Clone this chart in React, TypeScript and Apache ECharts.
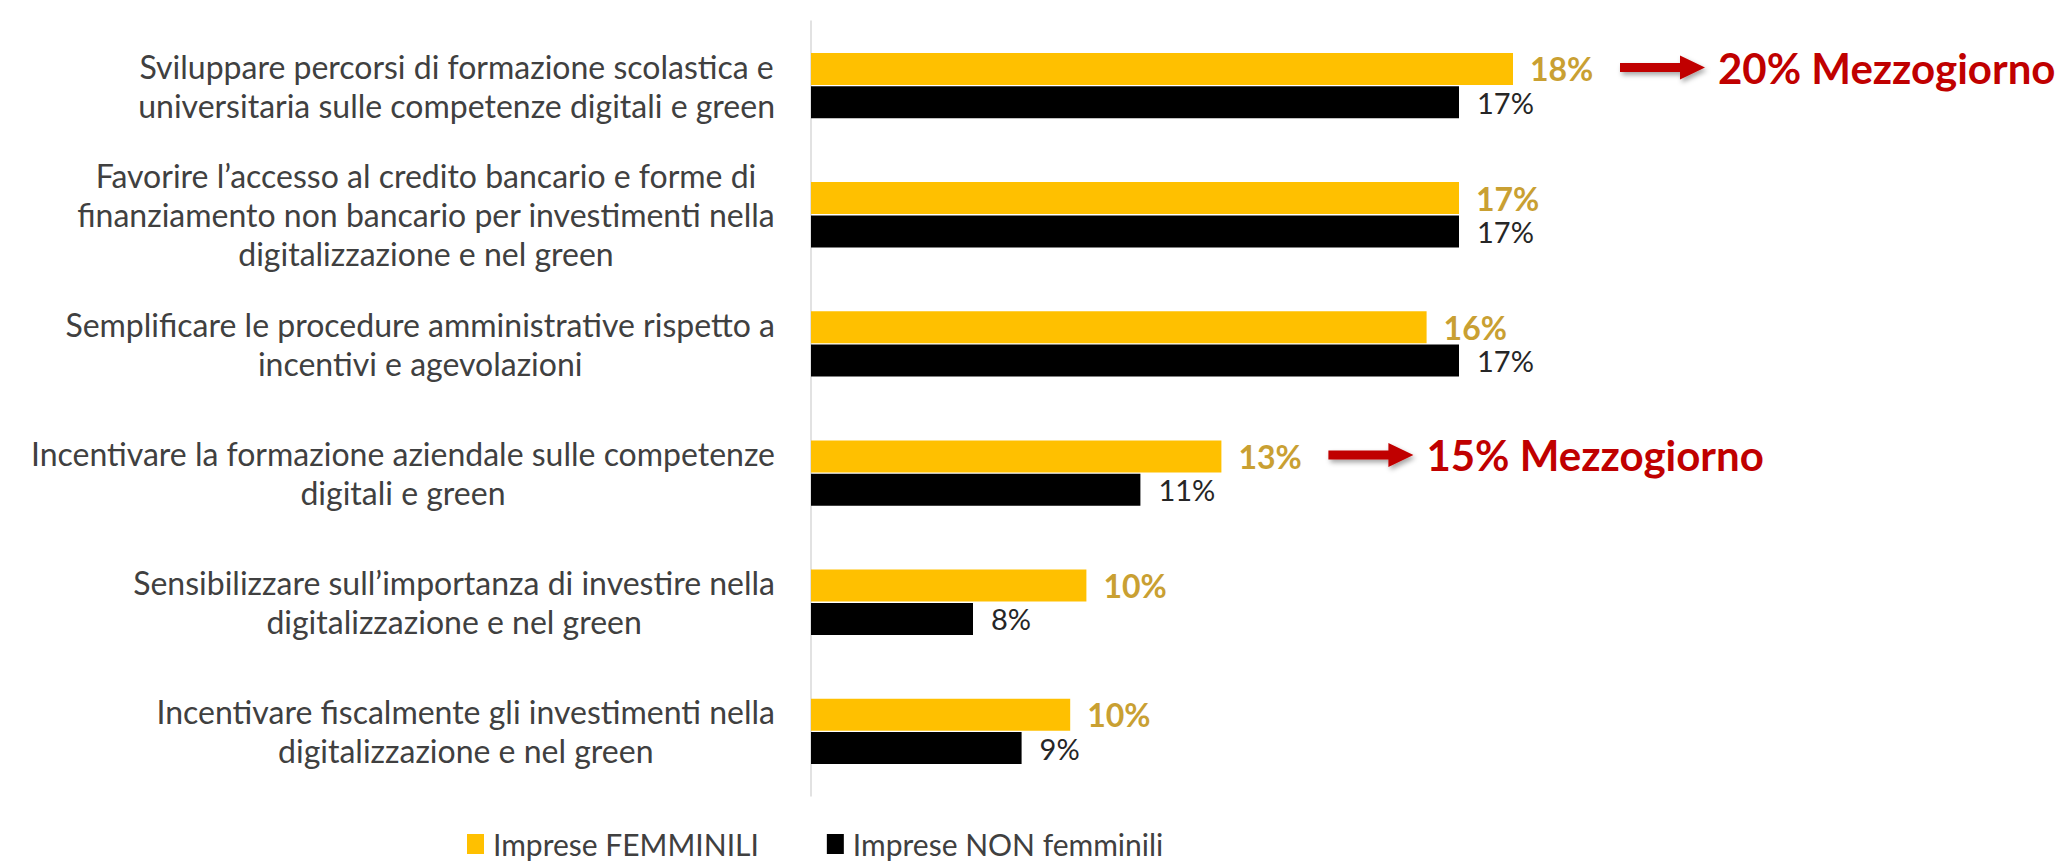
import React, { useEffect, useRef } from "react";
import * as echarts from "echarts";

const categories = [
  "Sviluppare percorsi di formazione scolastica e\nuniversitaria sulle competenze digitali e green",
  "Favorire l’accesso al credito bancario e forme di\nfinanziamento non bancario per investimenti nella\ndigitalizzazione e nel green",
  "Semplificare le procedure amministrative rispetto a\nincentivi e agevolazioni",
  "Incentivare la formazione aziendale sulle competenze\ndigitali e green",
  "Sensibilizzare sull’importanza di investire nella\ndigitalizzazione e nel green",
  "Incentivare fiscalmente gli investimenti nella\ndigitalizzazione e nel green",
];
const femminili = [18.0, 17.0, 16.4, 12.6, 10.1, 9.8];
const nonFemminili = [17.0, 17.0, 17.0, 11.1, 8.0, 8.9];
const seriesNames = ["Imprese FEMMINILI", "Imprese NON femminili"];
const mezzogiornoIndex = [0, 3];
const mezzogiornoValue = [20, 15];

const YELLOW = "#FFC000";
const GOLD = "#C9A032";
const RED = "#C00000";
const TEXT = "#404040";
const FONT = "Lato, 'Open Sans', sans-serif";
const BAR_W = 32;

export default function App() {
  const ref = useRef<HTMLDivElement>(null);
  useEffect(() => {
    if (!ref.current) return;
    const chart = echarts.init(ref.current, undefined, { renderer: "svg" });
    const option: any = {
      animation: false,
      backgroundColor: "#ffffff",
      grid: { left: 811, top: 21, height: 775, right: 337, containLabel: false },
      xAxis: {
        type: "value",
        min: 5,
        max: 22,
        show: false,
      },
      yAxis: {
        type: "category",
        inverse: true,
        data: categories,
        axisLine: { show: true, lineStyle: { color: "#D9D9D9", width: 1.5 } },
        axisTick: { show: false },
        axisLabel: {
          margin: 36,
          align: "right",
          formatter: (v: string) =>
            v
              .split("\n")
              .map((l) => `{c|${l}}`)
              .join("\n"),
          rich: {
            c: {
              align: "center",
              fontFamily: FONT,
              fontSize: 32,
              lineHeight: 39,
              color: TEXT,
            },
          },
        },
      },
      legend: {
        left: 462,
        top: 824,
        icon: "rect",
        itemWidth: 17,
        itemHeight: 20,
        itemGap: 68,
        textStyle: { fontFamily: FONT, fontSize: 30, color: TEXT, padding: [0, 0, 0, 4] },
        data: seriesNames,
      },
      series: [
        {
          name: seriesNames[0],
          type: "bar",
          data: femminili,
          barWidth: BAR_W,
          barGap: "4%",
          itemStyle: { color: YELLOW },
          label: {
            show: true,
            position: "right",
            distance: 17,
            formatter: (p: any) => `${Math.round(p.value)}%`,
            fontFamily: FONT,
            fontSize: 32,
            fontWeight: "bold",
            color: GOLD,
          },
        },
        {
          name: seriesNames[1],
          type: "bar",
          data: nonFemminili,
          barWidth: BAR_W,
          itemStyle: { color: "#000000" },
          label: {
            show: true,
            position: "right",
            distance: 18,
            formatter: (p: any) => `${Math.round(p.value)}%`,
            fontFamily: FONT,
            fontSize: 29,
            color: "#262626",
          },
        },
      ],
    };
    chart.setOption(option);

    const graphics: any[] = [];
    mezzogiornoIndex.forEach((idx, k) => {
      const pt = chart.convertToPixel({ gridIndex: 0 }, [femminili[idx], idx]) as number[];
      const x0 = pt[0] + 107;
      const y0 = pt[1] - (BAR_W / 2 + 1) - 1;
      const shaft = 60;
      const head = 25;
      graphics.push({
        type: "polygon",
        x: x0,
        y: y0,
        shape: {
          points: [
            [0, -4.5],
            [shaft, -4.5],
            [shaft, -12],
            [shaft + head, 0],
            [shaft, 12],
            [shaft, 4.5],
            [0, 4.5],
          ],
        },
        style: {
          fill: RED,
          shadowBlur: 5,
          shadowColor: "rgba(0,0,0,0.35)",
          shadowOffsetX: 2,
          shadowOffsetY: 3,
        },
      });
      graphics.push({
        type: "text",
        x: x0 + shaft + head + 13,
        y: y0,
        style: {
          text: `${mezzogiornoValue[k]}% Mezzogiorno`,
          fontFamily: FONT,
          fontSize: 42,
          fontWeight: "bold",
          fill: RED,
          textVerticalAlign: "middle",
          verticalAlign: "middle",
        },
      });
    });
    chart.setOption({ graphic: graphics });

    return () => chart.dispose();
  }, []);
  return (
    <div
      ref={ref}
      style={{ position: "fixed", left: 0, top: 0, width: 2066, height: 862, background: "#fff" }}
    />
  );
}
